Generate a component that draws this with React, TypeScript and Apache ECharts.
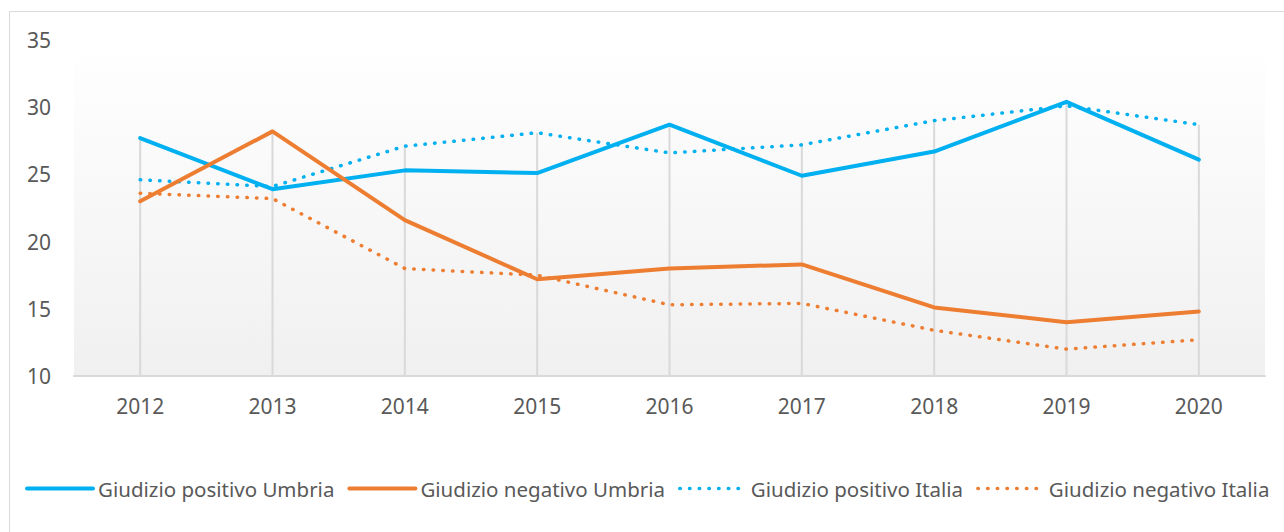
import React, { useEffect, useRef } from "react";
import * as echarts from "echarts";

const years = ["2012", "2013", "2014", "2015", "2016", "2017", "2018", "2019", "2020"];
const positivoUmbria = [27.7, 23.9, 25.3, 25.1, 28.7, 24.9, 26.7, 30.4, 26.1];
const negativoUmbria = [23.0, 28.2, 21.6, 17.2, 18.0, 18.3, 15.1, 14.0, 14.8];
const positivoItalia = [24.6, 24.1, 27.1, 28.1, 26.6, 27.2, 29.0, 30.1, 28.7];
const negativoItalia = [23.6, 23.2, 18.0, 17.5, 15.3, 15.4, 13.4, 12.0, 12.7];
const seriesNames = [
  "Giudizio positivo Umbria",
  "Giudizio negativo Umbria",
  "Giudizio positivo Italia",
  "Giudizio negativo Italia",
];
const yMin = 10;
const yMax = 35;
const yStep = 5;

const BLUE = "#00b0f0";
const ORANGE = "#ed7d31";
const FONT = "'Noto Sans', 'Open Sans', sans-serif";

export default function App() {
  const ref = useRef<HTMLDivElement>(null);
  useEffect(() => {
    if (!ref.current) return;
    const chart = echarts.init(ref.current, null, { renderer: "svg" });
    const dropMax = years.map((_, i) =>
      Math.max(positivoUmbria[i], negativoUmbria[i], positivoItalia[i], negativoItalia[i])
    );
    const dotted = (color: string) => ({
      color,
      width: 3.5,
      type: [0.5, 9.2],
      cap: "round",
    });
    const solid = (color: string) => ({ color, width: 4, cap: "round", join: "round" });
    chart.setOption({
      animation: false,
      backgroundColor: "#ffffff",
      textStyle: { fontFamily: FONT },
      graphic: [
        {
          type: "rect",
          shape: { x: 9.5, y: 11.5, width: 1400, height: 700 },
          style: { fill: "none", stroke: "#d9d9d9", lineWidth: 1 },
          silent: true,
          z: -10,
        },
      ],
      grid: {
        left: 74,
        right: 19,
        top: 40,
        bottom: 156,
        show: true,
        borderWidth: 0,
        backgroundColor: new echarts.graphic.LinearGradient(0, 0, 0, 1, [
          { offset: 0, color: "#ffffff" },
          { offset: 1, color: "#f0f0f0" },
        ]),
      },
      legend: {
        data: seriesNames,
        left: 20,
        top: 473,
        width: 1600,
        itemWidth: 66,
        itemHeight: 14,
        itemGap: 13,
        itemStyle: { opacity: 0, borderWidth: 0 },
        lineStyle: { width: "inherit", type: "inherit", cap: "inherit" },
        textStyle: { fontFamily: FONT, fontSize: 20.5, color: "#595959" },
      },
      xAxis: {
        type: "category",
        data: years,
        boundaryGap: true,
        axisLine: { show: true, lineStyle: { color: "#d9d9d9", width: 2 } },
        axisTick: { show: false },
        axisLabel: { color: "#595959", fontSize: 21, margin: 19, fontFamily: FONT },
        splitLine: { show: false },
      },
      yAxis: {
        type: "value",
        min: yMin,
        max: yMax,
        interval: yStep,
        axisLine: { show: false },
        axisTick: { show: false },
        splitLine: { show: false },
        axisLabel: { color: "#595959", fontSize: 21, margin: 23, fontFamily: FONT },
      },
      series: [
        {
          type: "bar",
          name: "drop",
          data: dropMax,
          barWidth: 2,
          itemStyle: { color: "#d9d9d9" },
          silent: true,
          z: 1,
        },
        {
          type: "line",
          name: seriesNames[0],
          data: positivoUmbria,
          symbol: "none",
          lineStyle: solid(BLUE),
          itemStyle: { color: BLUE },
          z: 5,
        },
        {
          type: "line",
          name: seriesNames[1],
          data: negativoUmbria,
          symbol: "none",
          lineStyle: solid(ORANGE),
          itemStyle: { color: ORANGE },
          z: 5,
        },
        {
          type: "line",
          name: seriesNames[2],
          data: positivoItalia,
          symbol: "none",
          lineStyle: dotted(BLUE),
          itemStyle: { color: BLUE },
          z: 4,
        },
        {
          type: "line",
          name: seriesNames[3],
          data: negativoItalia,
          symbol: "none",
          lineStyle: dotted(ORANGE),
          itemStyle: { color: ORANGE },
          z: 4,
        },
      ],
    });
    return () => chart.dispose();
  }, []);
  return (
    <div
      ref={ref}
      style={{ position: "fixed", left: 0, top: 0, width: 1284, height: 532 }}
    />
  );
}
